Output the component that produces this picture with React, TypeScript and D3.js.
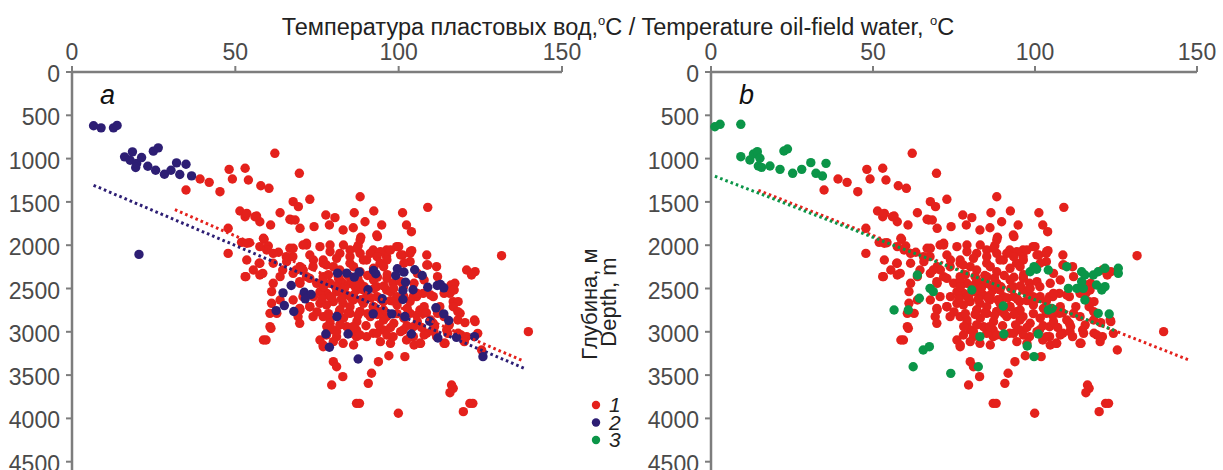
import React from "react";
import * as d3 from "d3";

// ---- data ----
const xTicks = [0, 50, 100, 150];
const yTicks = [0, 500, 1000, 1500, 2000, 2500, 3000, 3500, 4000, 4500];

// group 1 (red) – shown in both panels: [temperature °C, depth m]
const red: [number, number][] = [
  [34.9,1363],[39.2,1236],[42.0,1274],[45.3,1382],[48.1,1124],[49.1,1236],[53.0,1112],[54.0,1247],[57.8,1313],[60.3,1343],[62.1,939],[69.6,1170],
  [51.4,1605],[53.0,1671],[56.5,1663],[57.5,1729],[60.8,1767],[63.7,1625],[47.8,1805],[51.9,1967],[54.3,1971],[47.8,2094],[58.8,1932],[60.1,2009],[63.2,2082],[66.7,1701],[67.7,1497],[69.3,1555],[72.8,1470],[74.1,1786],[69.8,1805],[66.7,2036],[71.8,1978],
  [88.2,1440],[77.7,1651],[80.5,1682],[86.4,1625],[92.4,1605],[101.2,1625],[108.9,1563],[89.7,1729],[94.8,1767],[102.4,1767],[103.9,1844],[78.8,1767],[83.0,1824],[86.1,1798],[88.4,1909],[93.5,1901],[67.2,1709],[58.6,1920],[99.4,2017],[104.0,2063],[101.2,2113],[87.6,2005],[131.5,2121],[108.9,2229],[53.5,1632],[56.0,1671],[68.3,1709],[88.2,1940],[93.3,1882],
  [53.5,1978],[57.5,2017],[59.6,2055],[61.6,2094],[67.7,2036],[71.8,1998],[75.9,2017],[79.0,1998],[82.0,2094],[85.1,2055],[88.2,2094],[92.2,2055],[96.3,2055],[103.5,2094],[108.6,2113],[53.5,2171],[57.5,2209],[55.5,2286],[61.6,2209],[65.7,2190],[69.8,2248],[73.9,2171],[76.9,2209],[80.0,2248],[85.1,2209],[90.2,2171],[94.3,2209],[96.3,2132],[103.5,2190],[108.6,2229],[111.6,2248],[57.5,2344],[53.0,2363],[61.1,2536],[61.1,2671],[60.6,2941],[58.6,3095],
  [79.0,2440],[82.0,2402],[85.1,2440],[78.0,2556],[81.0,2536],[84.1,2575],[87.1,2517],[90.2,2594],[93.3,2479],[96.3,2517],[80.0,2652],[83.0,2671],[86.1,2633],[89.2,2671],[92.2,2710],[95.3,2652],[98.3,2440],[99.4,2594],[104.5,2594],[107.5,2556],[110.6,2594],[112.6,2710],[106.5,2748],[103.5,2787],[82.0,2748],[85.1,2787],[88.2,2767],[94.3,2767],[96.3,2825],[82.0,2517],[83.0,2440],[76.9,2363],[74.9,2440],[73.9,2594],[75.9,2671],[76.9,2825],[79.0,2902],[72.8,2710],[69.8,2748],[67.7,2633],[69.8,2440],[71.8,2363],[70.8,2286],[67.7,2325],[63.7,2363],[61.6,2440],[62.7,2787],[63.7,2633],[60.6,2787],
  [80.0,2979],[84.1,2941],[87.1,2979],[90.2,3056],[92.2,3017],[95.3,2979],[98.3,3056],[101.4,2979],[104.5,3056],[106.5,3133],[108.6,3017],[111.6,3056],[75.9,3095],[76.9,3172],[81.0,3056],[83.0,3133],[87.1,3056],
  [80.0,3345],[81.0,3403],[82.9,3518],[79.5,3614],[87.1,3826],[99.9,3941],[93.8,3345],[91.7,3479],[90.7,3595],[97.0,3276],[101.9,3287],
  [120.8,2286],[123.4,2305],[122.3,2344],[117.2,2440],[115.7,2556],[116.7,2652],[118.2,2652],[120.3,2894],[123.4,2883],[114.7,2979],[118.2,3017],[120.8,3056],[114.2,3133],[125.4,3210],[139.7,2998],[116.2,3614],[116.7,3653],[115.7,3703],[121.8,3826],[119.8,3922],[118.8,2787],[116.7,2710],[105.5,2594],[107.5,2787],[104.5,2941],[102.4,3095],[110.6,2902],
  [70.7,1998],[79.0,2075],[83.1,1998],[87.2,2036],[91.3,2094],[94.4,2075],[97.5,2055],[100.0,2017],
  [67.6,2132],[72.8,2113],[76.9,2171],[81.0,2152],[85.1,2132],[89.2,2171],[93.4,2132],[96.4,2171],[100.6,2113],[103.6,2075],
  [68.6,2286],[73.8,2248],[77.9,2229],[82.0,2286],[86.2,2248],[88.2,2306],[92.3,2267],[95.4,2248],[101.6,2209],[105.7,2325],
  [69.7,2421],[72.8,2383],[76.9,2402],[82.0,2421],[85.1,2363],[88.2,2440],[92.3,2402],[96.4,2383],[100.6,2421],[104.7,2440],[107.8,2402],[111.9,2363],[116.0,2460],
  [70.7,2594],[75.9,2537],[79.0,2594],[83.1,2556],[86.2,2575],[89.2,2517],[93.4,2594],[97.5,2537],[101.6,2594],[105.7,2556],[109.8,2575],[113.9,2556],[117.0,2517],
  [69.7,2729],[72.8,2710],[77.9,2690],[82.0,2748],[85.1,2710],[88.2,2767],[92.3,2710],[95.4,2748],[99.5,2690],[102.6,2729],[107.8,2710],[111.9,2787],[118.1,2767],
  [73.8,2825],[79.0,2864],[83.1,2844],[87.2,2883],[91.3,2825],[95.4,2864],[98.5,2902],[101.6,2844],[105.7,2883],[109.8,2864],[113.9,2825],[118.1,2864],[123.2,2864],
  [77.9,3037],[81.0,2998],[85.1,3018],[88.2,3037],[93.4,3018],[96.4,3037],[100.6,2998],[103.6,3056],[107.8,3037],[110.8,2998],[115.0,3018],[119.1,3037],[124.2,3018],
  [76.9,3152],[80.0,3114],[86.2,3152],[94.4,3114],[97.5,3133],[104.7,3152],[106.7,3133],[113.9,3133],[120.1,3114],
  [88.0,3826],[122.7,3826],[60.9,2960],[59.4,3095],[57.3,2209],[58.4,2325],[53.2,2363],[64.5,2286],[65.6,2132],[69.2,2825],[69.7,2902],
  [78.5,2340],[81.5,2360],[84.5,2350],[87.5,2380],[90.5,2350],[93.5,2370],[96.5,2340],
  [77.0,2480],[80.5,2470],[83.5,2490],[86.5,2470],[89.5,2480],[92.5,2500],[95.5,2470],[98.5,2500],[101.5,2480],
  [76.5,2620],[79.5,2600],[82.5,2620],[85.5,2610],[88.5,2630],[91.5,2610],[94.5,2620],[97.5,2640],[100.5,2620],[103.5,2650],
  [75.0,2770],[78.5,2790],[81.5,2800],[84.5,2780],[87.5,2810],[90.5,2790],[93.5,2800],[99.5,2790],[105.5,2810],[108.5,2780],
  [78.0,2940],[82.0,2920],[86.0,2940],[90.0,2930],[94.0,2920],[97.5,2950],[102.5,2930],[107.0,2950],[111.0,2940],[115.5,2920],
];

// group 2 (navy) – panel a
const navy: [number, number][] = [
  [6.6,621],[8.9,645],[12.7,645],[13.8,617],[16.1,980],[18.5,922],[17.8,1019],[19.8,1057],[21.3,988],[19.5,1103],[23.2,1088],[24.9,914],[26.4,876],[25.6,1134],[28.3,1181],[30.3,1134],[32.0,1049],[33.0,1184],[34.9,1065],[36.6,1200],[20.5,2106],
  [81.3,2323],[84.1,2323],[87.9,2311],[86.4,2369],[92.3,2292],[93.0,2330],[99.6,2272],[101.6,2311],[99.1,2350],[104.9,2284],[107.2,2350],[102.1,2427],[67.1,2465],[64.6,2550],[71.1,2543],[73.2,2569],[71.4,2619],[65.0,2697],[62.5,2755],[67.9,2766],[90.6,2515],[95.0,2619],[101.3,2523],[104.4,2515],[108.9,2485],[101.3,2627],[111.8,2465],[111.4,2723],[92.2,2793],[97.9,2793],[101.9,2824],[109.5,2878],[81.1,2824],[77.7,3025],[84.5,3025],[103.9,3025],[112.0,3071],[78.8,3179],[87.6,3314],[112.8,2454],[113.8,2492],[113.8,2793],[115.3,2870],[117.7,3064],[123.2,3056],[125.8,3287],
];

// group 3 (green) – panel b
const green: [number, number][] = [
  [1.2,632],[2.8,604],[9.2,604],[9.2,978],[12.0,1016],[13.1,947],[14.3,920],[15.1,996],[14.6,1085],[15.6,1101],[18.2,1085],[21.3,1124],[22.5,912],[23.6,889],[25.2,1170],[28.0,1124],[30.8,1047],[32.4,1170],[34.4,1201],[35.5,1055],
  [63.7,2344],[67.6,2498],[68.6,2536],[64.3,2613],[56.5,2748],[60.9,2748],[65.5,3210],[67.4,3172],[62.4,3403],[74.0,3480],[80.5,2517],[90.2,2702],[83.0,3056],[90.4,3025],[82.5,3403],[97.6,3164],[99.7,3287],[101.0,3025],
  [98.5,2306],[99.7,2248],[100.5,2278],[104.1,2286],[104.1,2748],[105.2,2729],[109.8,2248],[110.3,2498],[112.9,2498],[114.4,2306],[115.4,2344],[114.9,2498],[114.4,2421],[115.4,2633],
  [118.0,2344],[119.5,2306],[121.6,2267],[125.7,2267],[125.7,2325],[119.0,2460],[120.6,2517],[121.6,2479],[119.5,2787],[122.9,2794],
];

// trend lines (end points)
const trendA_red: [number, number][] = [[31.5,1590],[138,3335]];
const trendA_navy: [number, number][] = [[6.6,1308],[139,3430]];
const trendB_red: [number, number][] = [[14.6,1366],[148,3333]];
const trendB_green: [number, number][] = [[1.2,1204],[124.6,2986]];

const legendLabels = ["1", "2", "3"];

const RED = "#e4211c";
const NAVY = "#2d1e74";
const GREEN = "#0b9548";
const AXIS = "#7d7d7d";
const TXT = "#4a4a4a";
const FONT = "'Liberation Sans', Arial, sans-serif";

const y = d3.scaleLinear().domain([0, 5000]).range([72, 505]);

function Panel({ x0, x1, letter, groups, trends }: {
  x0: number; x1: number; letter: string;
  groups: { data: [number, number][]; color: string }[];
  trends: { data: [number, number][]; color: string }[];
}) {
  const x = d3.scaleLinear().domain([0, 150]).range([x0, x1]);
  const line = d3.line<[number, number]>().x(d => x(d[0])).y(d => y(d[1]));
  return (
    <g>
      <line x1={x(0)} x2={x(150)} y1={y(0)} y2={y(0)} stroke={AXIS} strokeWidth={2.5} />
      <line x1={x(0)} x2={x(0)} y1={y(0) - 1} y2={y(5000)} stroke={AXIS} strokeWidth={2.5} />
      {xTicks.map(t => (
        <g key={"xt" + t}>
          <line x1={x(t)} x2={x(t)} y1={y(0)} y2={y(0) - 6} stroke={AXIS} strokeWidth={2} />
          <text x={x(t)} y={y(0) - 12} textAnchor="middle" fontSize={23} fill={TXT} fontFamily={FONT}>{t}</text>
        </g>
      ))}
      {yTicks.map(t => (
        <g key={"yt" + t}>
          <line x1={x(0)} x2={x(0) - 6} y1={y(t)} y2={y(t)} stroke={AXIS} strokeWidth={2} />
          <text x={x(0) - 12} y={y(t) + 10} textAnchor="end" fontSize={23} fill={TXT} fontFamily={FONT}>{t}</text>
        </g>
      ))}
      <text x={x(0) + 28} y={y(0) + 32} fontSize={27} fontStyle="italic" fill="#111" fontFamily={FONT}>{letter}</text>
      {groups.map((g, gi) => (
        <g key={"g" + gi}>
          {g.data.map((d, i) => (
            <circle key={i} cx={x(d[0])} cy={y(d[1])} r={4.7} fill={g.color} />
          ))}
        </g>
      ))}
      {trends.map((t, i) => (
        <path key={"t" + i} d={line(t.data) || ""} stroke={t.color} strokeWidth={3}
          strokeDasharray="2.6 3" fill="none" />
      ))}
    </g>
  );
}

export default function App() {
  return (
    <svg width={1223} height={470} style={{ position: "absolute", left: 0, top: 0, background: "#fff" }}>
      <rect width={1223} height={470} fill="#fff" />
      <text x={618} y={35} textAnchor="middle" fontSize={23.5} fill="#222" fontFamily={FONT}>
        Температура пластовых вод,
        <tspan fontSize={13} dy={-10}>o</tspan>
        <tspan dy={10}>C / Temperature oil-field water, </tspan>
        <tspan fontSize={13} dy={-10}>o</tspan>
        <tspan dy={10}>C</tspan>
      </text>
      <Panel x0={72} x1={562} letter="a"
        groups={[{ data: red, color: RED }, { data: navy, color: NAVY }]}
        trends={[{ data: trendA_red, color: RED }, { data: trendA_navy, color: NAVY }]} />
      <Panel x0={711} x1={1197} letter="b"
        groups={[{ data: red, color: RED }, { data: green, color: GREEN }]}
        trends={[{ data: trendB_red, color: RED }, { data: trendB_green, color: GREEN }]} />
      <text transform="translate(597,304) rotate(-90)" textAnchor="middle" fontSize={22} fill="#222" fontFamily={FONT}>Глубина, м</text>
      <text transform="translate(616,302) rotate(-90)" textAnchor="middle" fontSize={22} fill="#222" fontFamily={FONT}>Depth, m</text>
      {[RED, NAVY, GREEN].map((c, i) => (
        <g key={"lg" + i}>
          <circle cx={596} cy={405 + i * 17.5} r={4.2} fill={c} />
          <text x={609} y={412 + i * 17.5} fontSize={21} fontStyle="italic" fill="#222" fontFamily={FONT}>{legendLabels[i]}</text>
        </g>
      ))}
    </svg>
  );
}
